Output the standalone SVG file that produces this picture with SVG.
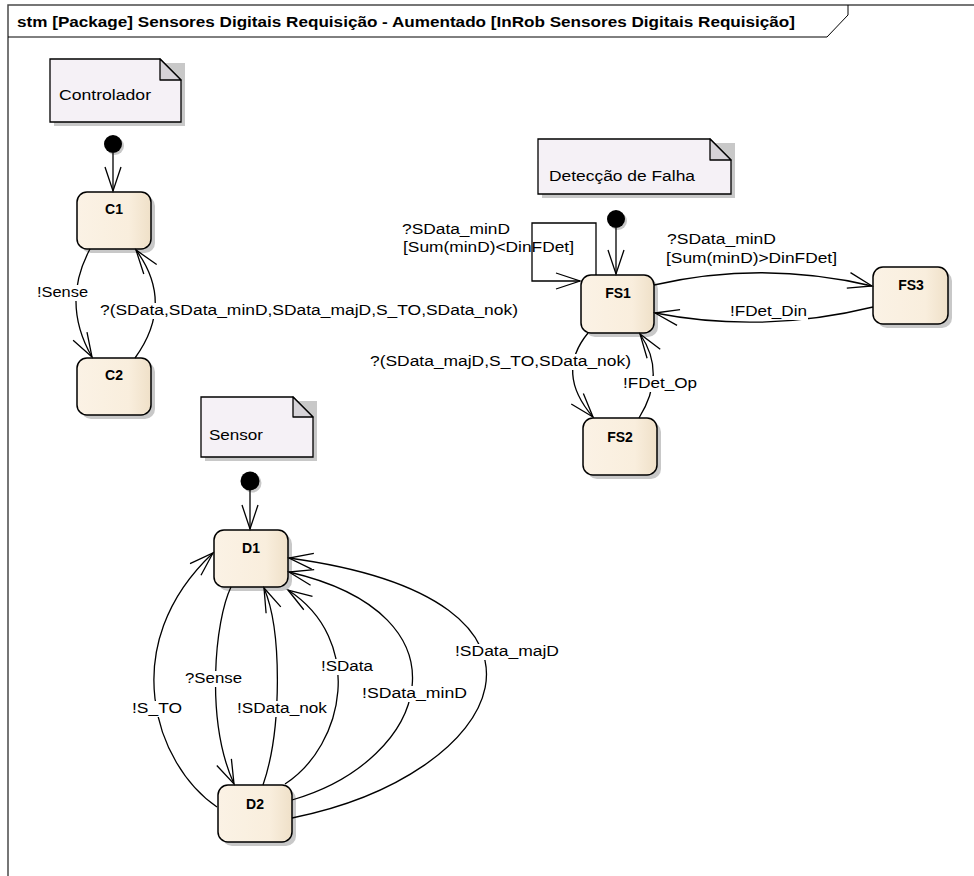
<svg xmlns="http://www.w3.org/2000/svg" width="974" height="876" viewBox="0 0 974 876">
<style>
.frame{fill:none;stroke:#4a4a4a;stroke-width:1.5}
.title{font-family:"Liberation Sans",Arial,sans-serif;font-size:14px;font-weight:bold;fill:#000}
.note{fill:#F5F1F6;stroke:#000;stroke-width:1.3}
.fold{fill:#D6D3D8;stroke:#000;stroke-width:1.3;stroke-linejoin:round}
.nshadow{fill:#C8C8C8}
.ntext{font-family:"Liberation Sans",Arial,sans-serif;font-size:14px;fill:#000}
.state{fill:url(#sg);stroke:#000;stroke-width:1.5}
.sname{font-family:"Liberation Sans",Arial,sans-serif;font-size:14px;font-weight:bold;fill:#000;text-anchor:middle}
.init{fill:#000}
.edge{fill:none;stroke:#000;stroke-width:1.3;marker-end:url(#arr)}
.bg{fill:#fff}
.lbl{font-family:"Liberation Sans",Arial,sans-serif;font-size:14px;fill:#000}
</style>
<defs>
<linearGradient id="sg" x1="0" y1="0" x2="1" y2="0">
<stop offset="0" stop-color="#FBF2E5"/>
<stop offset="0.7" stop-color="#F9EEDD"/>
<stop offset="1" stop-color="#EFE0C8"/>
</linearGradient>
<marker id="arr" markerUnits="userSpaceOnUse" markerWidth="28" markerHeight="20" viewBox="0 0 28 20" refX="25" refY="9" orient="auto">
<path d="M1,1 L25,9 L1,17" fill="none" stroke="#000" stroke-width="1.3"/>
</marker>
</defs>

<g id="frame">
<path class="frame" d="M8,876 L8,5 L974,5"/>
<path d="M8,37 L827,37 L848,15 L848,5" fill="none" stroke="#000" stroke-width="1"/>
<text class="title" x="17" y="27" textLength="778" lengthAdjust="spacingAndGlyphs">stm [Package] Sensores Digitais Requisição - Aumentado [InRob Sensores Digitais Requisição]</text>
</g>

<g id="note-controlador">
<path class="nshadow" d="M54,63 L185,63 L185,126 L54,126 Z"/>
<path class="note" d="M50,59 L160,59 L181,80 L181,122 L50,122 Z"/>
<path class="fold" d="M160,59 L160,80 L181,80 Z"/>
<text class="ntext" x="59" y="100" textLength="92" lengthAdjust="spacingAndGlyphs">Controlador</text>
</g>

<g id="note-deteccao">
<path class="nshadow" d="M542,143 L735,143 L735,198 L542,198 Z"/>
<path class="note" d="M538,139 L710,139 L731,160 L731,194 L538,194 Z"/>
<path class="fold" d="M710,139 L710,160 L731,160 Z"/>
<text class="ntext" x="549" y="181" textLength="146" lengthAdjust="spacingAndGlyphs">Detecção de Falha</text>
</g>

<g id="note-sensor">
<path class="nshadow" d="M205,401 L317,401 L317,461 L205,461 Z"/>
<path class="note" d="M201,397 L293,397 L313,417 L313,457 L201,457 Z"/>
<path class="fold" d="M293,397 L293,417 L313,417 Z"/>
<text class="ntext" x="209" y="440" textLength="54" lengthAdjust="spacingAndGlyphs">Sensor</text>
</g>

<g id="init-c">
<circle cx="115" cy="146" r="9" fill="#C8C8C8"/>
<circle class="init" cx="113" cy="144" r="9"/>
</g>
<g id="init-fs">
<circle cx="618" cy="221" r="9" fill="#C8C8C8"/>
<circle class="init" cx="616" cy="219" r="9"/>
</g>
<g id="init-d">
<circle cx="252" cy="483" r="9.5" fill="#C8C8C8"/>
<circle class="init" cx="250" cy="481" r="9.5"/>
</g>

<g id="C1">
<rect class="nshadow" x="81" y="196" width="74" height="57" rx="10"/>
<rect class="state" x="77" y="192" width="74" height="57" rx="10"/>
<text class="sname" x="114" y="214">C1</text>
</g>
<g id="C2">
<rect class="nshadow" x="81" y="362" width="74" height="57" rx="10"/>
<rect class="state" x="77" y="358" width="74" height="57" rx="10"/>
<text class="sname" x="114" y="380">C2</text>
</g>
<g id="FS1">
<rect class="nshadow" x="585" y="279" width="73" height="58" rx="10"/>
<rect class="state" x="581" y="275" width="73" height="58" rx="10"/>
<text class="sname" x="618" y="298">FS1</text>
</g>
<g id="FS2">
<rect class="nshadow" x="587" y="422" width="74" height="57" rx="10"/>
<rect class="state" x="583" y="418" width="74" height="57" rx="10"/>
<text class="sname" x="620" y="442">FS2</text>
</g>
<g id="FS3">
<rect class="nshadow" x="877" y="271" width="75" height="57" rx="10"/>
<rect class="state" x="873" y="267" width="75" height="57" rx="10"/>
<text class="sname" x="911" y="290">FS3</text>
</g>
<g id="D1">
<rect class="nshadow" x="218" y="534" width="74" height="57" rx="10"/>
<rect class="state" x="214" y="530" width="74" height="57" rx="10"/>
<text class="sname" x="251" y="553">D1</text>
</g>
<g id="D2">
<rect class="nshadow" x="222" y="789" width="74" height="57" rx="10"/>
<rect class="state" x="218" y="785" width="74" height="57" rx="10"/>
<text class="sname" x="255" y="809">D2</text>
</g>

<g id="connectors">
<path class="edge" d="M113,153 L113,191"/>
<path class="edge" d="M616,228 L616,274"/>
<path class="edge" d="M250,490 L250,529"/>

<path class="edge" d="M90,249 Q61,303 92,357"/>
<path class="edge" d="M135,358 Q175,303 136,250"/>

<path class="edge" d="M596,275 L596,223 L532,223 L532,281 L580,281"/>
<path class="edge" d="M654,285 Q763,260 872,286"/>
<path class="edge" d="M873,307 Q763,334 655,313"/>
<path class="edge" d="M588,333 Q555,373 593,417"/>
<path class="edge" d="M639,418 Q667,373 640,334"/>

<path class="edge" d="M217,807 C155,765 115,645 213,553"/>
<path class="edge" d="M231,587 C215,620 205,720 234,784"/>
<path class="edge" d="M263,785 C282,730 282,630 264,588"/>
<path class="edge" d="M285,784 C345,745 365,640 288,590"/>
<path class="edge" d="M292,800 C430,760 475,615 289,572"/>
<path class="edge" d="M292,818 C505,775 595,600 289,558"/>
</g>

<g id="labels">
<rect class="bg" x="36" y="285" width="53" height="16"/>
<text class="lbl" x="37" y="297" textLength="51" lengthAdjust="spacingAndGlyphs">!Sense</text>
<rect class="bg" x="99" y="303" width="420" height="16"/>
<text class="lbl" x="100" y="315" textLength="418" lengthAdjust="spacingAndGlyphs">?(SData,SData_minD,SData_majD,S_TO,SData_nok)</text>
<text class="lbl" x="402" y="234" textLength="108" lengthAdjust="spacingAndGlyphs">?SData_minD</text>
<text class="lbl" x="403" y="252" textLength="171" lengthAdjust="spacingAndGlyphs">[Sum(minD)&lt;DinFDet]</text>
<text class="lbl" x="667" y="244" textLength="109" lengthAdjust="spacingAndGlyphs">?SData_minD</text>
<text class="lbl" x="666" y="263" textLength="171" lengthAdjust="spacingAndGlyphs">[Sum(minD)&gt;DinFDet]</text>
<rect class="bg" x="729" y="304" width="79" height="16"/>
<text class="lbl" x="730" y="316" textLength="77" lengthAdjust="spacingAndGlyphs">!FDet_Din</text>
<rect class="bg" x="369" y="354" width="263" height="16"/>
<text class="lbl" x="370" y="366" textLength="261" lengthAdjust="spacingAndGlyphs">?(SData_majD,S_TO,SData_nok)</text>
<rect class="bg" x="622" y="376" width="76" height="16"/>
<text class="lbl" x="623" y="388" textLength="74" lengthAdjust="spacingAndGlyphs">!FDet_Op</text>
<rect class="bg" x="131" y="701" width="52" height="16"/>
<text class="lbl" x="132" y="713" textLength="50" lengthAdjust="spacingAndGlyphs">!S_TO</text>
<rect class="bg" x="184" y="671" width="59" height="16"/>
<text class="lbl" x="185" y="683" textLength="57" lengthAdjust="spacingAndGlyphs">?Sense</text>
<rect class="bg" x="236" y="701" width="92" height="16"/>
<text class="lbl" x="237" y="713" textLength="90" lengthAdjust="spacingAndGlyphs">!SData_nok</text>
<rect class="bg" x="320" y="659" width="54" height="16"/>
<text class="lbl" x="321" y="671" textLength="52" lengthAdjust="spacingAndGlyphs">!SData</text>
<rect class="bg" x="361" y="686" width="107" height="16"/>
<text class="lbl" x="362" y="698" textLength="105" lengthAdjust="spacingAndGlyphs">!SData_minD</text>
<rect class="bg" x="454" y="644" width="106" height="16"/>
<text class="lbl" x="455" y="656" textLength="104" lengthAdjust="spacingAndGlyphs">!SData_majD</text>
</g>
</svg>
